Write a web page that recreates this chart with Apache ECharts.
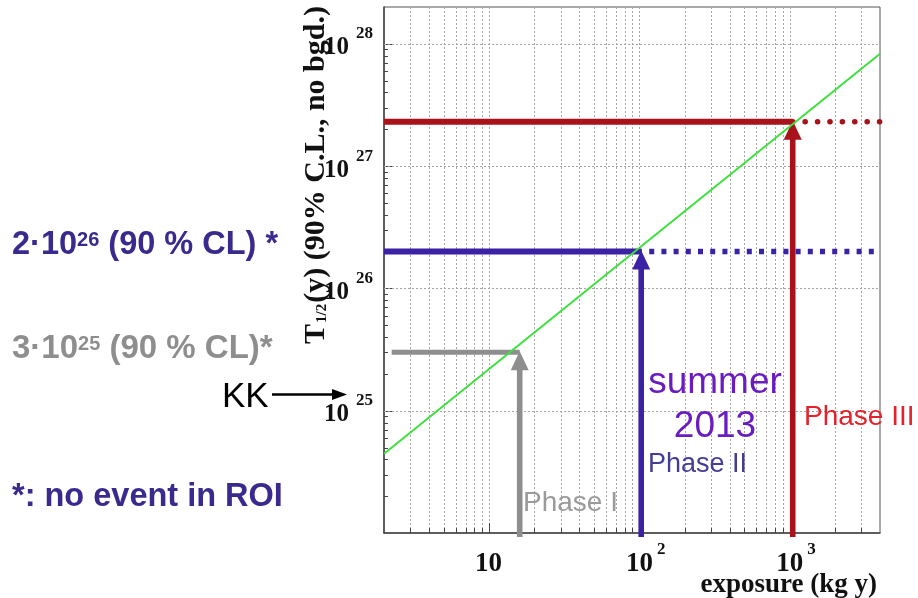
<!DOCTYPE html>
<html>
<head>
<meta charset="utf-8">
<script src="https://cdn.jsdelivr.net/npm/echarts@6/dist/echarts.min.js"></script>
<style>
  html, body { margin: 0; padding: 0; background: #ffffff; }
  #chart { width: 918px; height: 598px; }
</style>
</head>
<body>
<div id="chart"></div>
<script>
// Axis ranges: exposure (kg y) and half-life T1/2 (y)
const exposureRange = [2, 4000];
const halfLifeRange = [1e24, 2e28];

// Background-free 90% C.L. sensitivity versus exposure
const sensitivityExposure = [2, 4000];
const sensitivityHalfLife = [4.45e24, 8.3e27];

// Experiment phases: exposure reached and half-life limit
const phaseNames = ['Phase I', 'Phase II', 'Phase III'];
const phaseExposure = [16, 103, 1050];
const phaseHalfLife = [3e25, 2e26, 2.3e27];
const phaseLineStart = [2.25, 2, 2];
const phaseExtended = [false, true, true];

// Tick positions on the log axes
const tickMultipliers = [1, 2, 3, 4, 5, 6, 7, 8, 9];
const xDecades = [1, 10, 100, 1000];
const yDecades = [1e24, 1e25, 1e26, 1e27, 1e28];
const yLabelExponents = [25, 26, 27, 28];
const xLabelExponents = [1, 2, 3];

const phaseColors = ['#8e8e8e', '#3b22a5', '#a8121b'];
const serif = 'Liberation Serif';
const sans = 'Liberation Sans';

const xTicks = [];
xDecades.forEach(d => tickMultipliers.forEach(m => {
  const v = d * m;
  if (v > exposureRange[0] && v < exposureRange[1]) xTicks.push(v);
}));
const yTicks = [];
yDecades.forEach(d => tickMultipliers.forEach(m => {
  const v = d * m;
  if (v > halfLifeRange[0] && v < halfLifeRange[1]) yTicks.push(v);
}));

function isDecade(v) {
  const l = Math.log10(v);
  return Math.abs(l - Math.round(l)) < 1e-9;
}
function crisp(v) { return Math.round(v) + 0.5; }

const series = [];

// vertical dotted grid and bottom ticks
series.push({
  type: 'custom', silent: true, z: 1,
  data: xTicks.map(v => [v, halfLifeRange[0]]),
  renderItem(params, api) {
    const v = api.value(0);
    const p = api.coord([v, api.value(1)]);
    const cs = params.coordSys;
    const x = crisp(p[0]);
    const len = isDecade(v) ? 10 : 5;
    return {
      type: 'group',
      children: [
        { type: 'line', shape: { x1: x, y1: cs.y, x2: x, y2: cs.y + cs.height },
          style: { stroke: '#a4a4a4', lineWidth: 1, lineDash: [2, 2] } },
        { type: 'line', shape: { x1: x, y1: cs.y + cs.height, x2: x, y2: cs.y + cs.height - len },
          style: { stroke: '#444', lineWidth: 1 } }
      ]
    };
  }
});

// horizontal dotted grid at decades and left ticks
series.push({
  type: 'custom', silent: true, z: 1,
  data: yTicks.map(v => [exposureRange[0], v]),
  renderItem(params, api) {
    const v = api.value(1);
    const p = api.coord([api.value(0), v]);
    const cs = params.coordSys;
    const y = crisp(p[1]);
    const major = isDecade(v);
    const children = [
      { type: 'line', shape: { x1: cs.x, y1: y, x2: cs.x + (major ? 9 : 4), y2: y },
        style: { stroke: '#444', lineWidth: 1 } }
    ];
    if (major) {
      children.push({ type: 'line', shape: { x1: cs.x, y1: y, x2: cs.x + cs.width, y2: y },
        style: { stroke: '#a4a4a4', lineWidth: 1, lineDash: [2, 2] } });
    }
    return { type: 'group', children };
  }
});

// horizontal limit lines for each phase
phaseNames.forEach((name, i) => {
  series.push({
    type: 'line', name: name, z: 3, silent: true,
    showSymbol: false, symbol: 'none',
    data: [[phaseLineStart[i], phaseHalfLife[i]], [phaseExposure[i], phaseHalfLife[i]]],
    lineStyle: { color: phaseColors[i], width: i === 0 ? 5 : 6, cap: 'butt' }
  });
  if (phaseExtended[i]) {
    series.push({
      type: 'line', name: name + ' projection', z: 3, silent: true,
      showSymbol: false, symbol: 'none',
      data: [[phaseExposure[i], phaseHalfLife[i]], [exposureRange[1], phaseHalfLife[i]]],
      lineStyle: i === 2
        ? { color: phaseColors[i], width: 5.5, type: [0.1, 12.3], cap: 'round' }
        : { color: phaseColors[i], width: 5.5, type: [5, 7.2], cap: 'butt', dashOffset: -8 }
    });
  }
});

// vertical arrows from the exposure axis up to each limit
series.push({
  type: 'custom', silent: true, z: 4, clip: false,
  data: phaseExposure.map((e, i) => [e, phaseHalfLife[i], i]),
  renderItem(params, api) {
    const tip = api.coord([api.value(0), api.value(1)]);
    const cs = params.coordSys;
    const c = phaseColors[api.value(2)];
    const bottom = cs.y + cs.height + 4;
    const hw = 9, hh = 18, sw = 5.6;
    return {
      type: 'group',
      children: [
        { type: 'rect', shape: { x: tip[0] - sw / 2, y: tip[1] + hh - 1, width: sw, height: bottom - (tip[1] + hh - 1) },
          style: { fill: c } },
        { type: 'polygon', shape: { points: [[tip[0], tip[1] - 1], [tip[0] - hw, tip[1] + hh], [tip[0] + hw, tip[1] + hh]] },
          style: { fill: c } }
      ]
    };
  }
});

// sensitivity line
series.push({
  type: 'line', name: 'sensitivity', z: 5, silent: true,
  showSymbol: false, symbol: 'none',
  data: sensitivityExposure.map((e, i) => [e, sensitivityHalfLife[i]]),
  lineStyle: { color: '#3ee03e', width: 2 }
});

const chart = echarts.init(document.getElementById('chart'), null, { renderer: 'canvas' });
chart.setOption({
  animation: false,
  backgroundColor: '#ffffff',
  grid: {
    left: 384, top: 7, right: 38, bottom: 65,
    show: true, borderColor: '#555', borderWidth: 1, backgroundColor: 'transparent'
  },
  xAxis: {
    type: 'log', logBase: 10,
    min: exposureRange[0], max: exposureRange[1],
    axisLine: { show: true, lineStyle: { color: '#444', width: 1.5 } },
    axisTick: { show: false },
    splitLine: { show: false },
    minorTick: { show: false },
    axisLabel: {
      showMinLabel: false, showMaxLabel: false, margin: 8,
      formatter(v) {
        const e = Math.round(Math.log10(v));
        if (xLabelExponents.indexOf(e) < 0) return '';
        return e === 1 ? '{b|10}{v| }' : '{p| }{b|10}{e|' + e + '}';
      },
      rich: {
        b: { fontFamily: serif, fontWeight: 'bold', fontSize: 27, color: '#111', lineHeight: 30 },
        e: { fontFamily: serif, fontWeight: 'bold', fontSize: 17, color: '#111', padding: [0, 0, 30, 4] },
        v: { fontFamily: serif, fontSize: 17, width: 1, padding: [0, 0, 30, 0] },
        p: { width: 13, fontSize: 10 }
      }
    }
  },
  yAxis: {
    type: 'log', logBase: 10,
    min: halfLifeRange[0], max: halfLifeRange[1],
    axisLine: { show: true, lineStyle: { color: '#444', width: 1.5 } },
    axisTick: { show: false },
    splitLine: { show: false },
    minorTick: { show: false },
    axisLabel: {
      showMinLabel: false, showMaxLabel: false, margin: 11,
      formatter(v) {
        const e = Math.round(Math.log10(v));
        if (yLabelExponents.indexOf(e) < 0) return '';
        return '{b|10}{e|' + e + '}';
      },
      rich: {
        b: { fontFamily: serif, fontWeight: 'bold', fontSize: 25, color: '#111', lineHeight: 28, padding: [8, 0, 0, 0] },
        e: { fontFamily: serif, fontWeight: 'bold', fontSize: 17, color: '#111', padding: [0, 0, 20, 7] }
      }
    }
  },
  series: series,
  graphic: [
    // axis titles
    {
      type: 'text', x: 316, y: 175, rotation: Math.PI / 2, z: 10,
      style: {
        text: '{t|T}{s|1/2}{t|(y) (90% C.L., no bgd.)}',
        align: 'center', verticalAlign: 'middle',
        rich: {
          t: { fontFamily: serif, fontWeight: 'bold', fontSize: 30, fill: '#111' },
          s: { fontFamily: serif, fontWeight: 'bold', fontSize: 15, fill: '#111', padding: [12, 1, 0, 1] }
        }
      }
    },
    {
      type: 'text', x: 877, y: 585, z: 10,
      style: {
        text: 'exposure (kg y)', align: 'right', verticalAlign: 'middle',
        fontFamily: serif, fontWeight: 'bold', fontSize: 27, fill: '#111'
      }
    },
    // phase labels
    {
      type: 'text', x: 523, y: 503, z: 10,
      style: { text: 'Phase I', align: 'left', verticalAlign: 'middle',
        fontFamily: sans, fontSize: 28, fill: '#9a9a9a' }
    },
    {
      type: 'text', x: 648, y: 465, z: 10,
      style: { text: 'Phase II', align: 'left', verticalAlign: 'middle',
        fontFamily: sans, fontSize: 27, fill: '#433d95' }
    },
    {
      type: 'text', x: 804, y: 417, z: 10,
      style: { text: 'Phase III', align: 'left', verticalAlign: 'middle',
        fontFamily: sans, fontSize: 28, fill: '#e3222b' }
    },
    {
      type: 'text', x: 715, y: 405, z: 10,
      style: { text: 'summer\n2013', align: 'center', verticalAlign: 'middle',
        fontFamily: sans, fontSize: 37, lineHeight: 44, fill: '#6a1cc0' }
    },
    // limits quoted on the left
    {
      type: 'text', x: 12, y: 245, z: 10,
      style: {
        text: '{a|2·10}{s|26}{a| (90 % CL) *}', align: 'left', verticalAlign: 'middle',
        rich: {
          a: { fontFamily: sans, fontWeight: 'bold', fontSize: 32.5, fill: '#3a2a8e' },
          s: { fontFamily: sans, fontWeight: 'bold', fontSize: 20, fill: '#3a2a8e', padding: [0, 0, 10, 0] }
        }
      }
    },
    {
      type: 'text', x: 12, y: 349, z: 10,
      style: {
        text: '{a|3·10}{s|25}{a| (90 % CL)*}', align: 'left', verticalAlign: 'middle',
        rich: {
          a: { fontFamily: sans, fontWeight: 'bold', fontSize: 33, fill: '#8e8e8e' },
          s: { fontFamily: sans, fontWeight: 'bold', fontSize: 20, fill: '#8e8e8e', padding: [0, 0, 10, 0] }
        }
      }
    },
    {
      type: 'text', x: 12, y: 497, z: 10,
      style: { text: '*: no event in ROI', align: 'left', verticalAlign: 'middle',
        fontFamily: sans, fontWeight: 'bold', fontSize: 32.5, fill: '#3a2a8e' }
    },
    // KK claim pointer
    {
      type: 'text', x: 222, y: 397, z: 10,
      style: { text: 'KK', align: 'left', verticalAlign: 'middle',
        fontFamily: sans, fontSize: 35, fill: '#000' }
    },
    {
      type: 'line', z: 10,
      shape: { x1: 272, y1: 394.5, x2: 336, y2: 394.5 },
      style: { stroke: '#000', lineWidth: 2.5 }
    },
    {
      type: 'polygon', z: 10,
      shape: { points: [[347, 394.5], [332, 389], [332, 400]] },
      style: { fill: '#000' }
    }
  ]
});
</script>
</body>
</html>
